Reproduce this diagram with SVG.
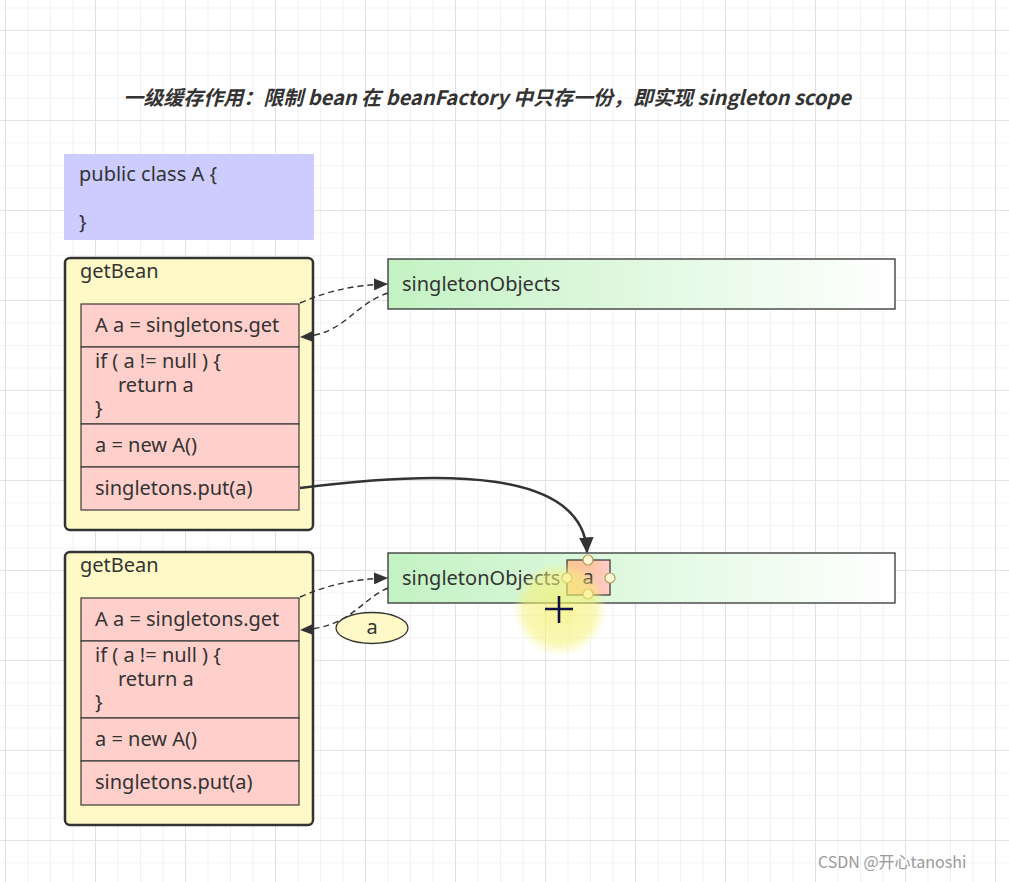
<svg xmlns="http://www.w3.org/2000/svg" width="1009" height="882" viewBox="0 0 1009 882">
<defs>
<pattern id="gMinor" patternUnits="userSpaceOnUse" x="5" y="7.5" width="22.5" height="22.5">
<path d="M0,0 V22.5 M0,0 H22.5" fill="none" stroke="#e9e9e9" stroke-width="1.2"/>
</pattern>
<pattern id="gMajor" patternUnits="userSpaceOnUse" x="5" y="30" width="90" height="90">
<path d="M0,0 V90 M0,0 H90" fill="none" stroke="#dedede" stroke-width="1.6"/>
</pattern>
<linearGradient id="green" x1="0" y1="0" x2="1" y2="0">
<stop offset="0" stop-color="#c3f2c3"/>
<stop offset="1" stop-color="#ffffff"/>
</linearGradient>
<linearGradient id="small" x1="0" y1="0" x2="1" y2="0">
<stop offset="0" stop-color="#fcc494"/>
<stop offset="0.6" stop-color="#fdc6a8"/>
<stop offset="1" stop-color="#ffcccc"/>
</linearGradient>
<radialGradient id="hl">
<stop offset="0" stop-color="#f3f06a" stop-opacity="0.7"/>
<stop offset="0.75" stop-color="#f5f27a" stop-opacity="0.55"/>
<stop offset="1" stop-color="#f7f590" stop-opacity="0"/>
</radialGradient>
<marker id="arr" viewBox="0 0 14 12" refX="14" refY="6" markerWidth="14" markerHeight="12" markerUnits="userSpaceOnUse" orient="auto">
<path d="M0,0 L14,6 L0,12 Z" fill="#333"/>
</marker>
<marker id="arrBig" viewBox="0 0 10 10" refX="9" refY="5" markerWidth="6.5" markerHeight="6.5" orient="auto">
<path d="M0,0.5 L10,5 L0,9.5 Z" fill="#333"/>
</marker>
<style>
text{font-family:"Noto Sans","Open Sans","Liberation Sans",sans-serif;font-size:20px;fill:#333}
.title{font-family:"Noto Sans CJK SC","Noto Sans",sans-serif;font-weight:bold;font-style:italic;font-size:20px;fill:#333}
.ybox{fill:#fff9c8;stroke:#333;stroke-width:2.5}
.prow{fill:#ffcfcb;stroke:#3a3a3a;stroke-width:1.2}
.gbox{fill:url(#green);stroke:#333;stroke-width:1.3}
.dash{fill:none;stroke:#333;stroke-width:1.4;stroke-dasharray:6 4;marker-end:url(#arr)}
.handle{fill:#fff8d6;stroke:#b59e58;stroke-width:1.2}
</style>
</defs>
<rect width="1009" height="882" fill="#ffffff"/>
<rect width="1009" height="882" fill="url(#gMinor)"/>
<rect width="1009" height="882" fill="url(#gMajor)"/>

<text id="title" class="title" x="487" y="105" text-anchor="middle">一级缓存作用：限制 bean 在 beanFactory 中只存一份，即实现 singleton scope</text>

<g id="classA">
<rect x="64" y="154" width="250" height="86" fill="#ccccff"/>
<text x="79" y="181">public class A {</text>
<text x="79" y="229">}</text>
</g>

<g id="getBean1">
<rect class="ybox" x="65" y="258" width="248" height="272" rx="5"/>
<text x="80" y="278">getBean</text>
<rect class="prow" x="81" y="304" width="218" height="43"/>
<text x="95" y="332">A a = singletons.get</text>
<rect class="prow" x="81" y="347" width="218" height="77"/>
<text x="95" y="368">if ( a != null ) {</text>
<text x="118" y="392">return a</text>
<text x="95" y="415">}</text>
<rect class="prow" x="81" y="424" width="218" height="43"/>
<text x="95" y="452">a = new A()</text>
<rect class="prow" x="81" y="467" width="218" height="43"/>
<text x="95" y="495">singletons.put(a)</text>
</g>

<g id="singletonObjects1">
<rect class="gbox" x="388" y="259" width="507" height="50"/>
<text x="402" y="291">singletonObjects</text>
</g>

<g id="getBean2">
<rect class="ybox" x="65" y="552" width="248" height="273" rx="5"/>
<text x="80" y="572">getBean</text>
<rect class="prow" x="81" y="598" width="218" height="43"/>
<text x="95" y="626">A a = singletons.get</text>
<rect class="prow" x="81" y="641" width="218" height="77"/>
<text x="95" y="662">if ( a != null ) {</text>
<text x="118" y="686">return a</text>
<text x="95" y="709">}</text>
<rect class="prow" x="81" y="718" width="218" height="43"/>
<text x="95" y="746">a = new A()</text>
<rect class="prow" x="81" y="761" width="218" height="44"/>
<text x="95" y="789">singletons.put(a)</text>
</g>

<g id="singletonObjects2">
<rect class="gbox" x="388" y="553" width="507" height="50"/>
<text x="402" y="585">singletonObjects</text>
</g>

<g id="connectors">
<path class="dash" d="M300,303 C330,290 355,285 388,284"/>
<path class="dash" d="M388,293 C352,305 345,335 300,337"/>
<path class="dash" d="M300,597 C330,584 355,579 388,578"/>
<path class="dash" d="M388,588 C360,600 350,628 300,630"/>
<path d="M300,488 C440,470 583,468 587,552" fill="none" stroke="#333" stroke-width="2.5" marker-end="url(#arrBig)"/>
</g>

<g id="labelA">
<ellipse cx="372" cy="628" rx="36" ry="15.5" fill="#fff9c8" stroke="#333" stroke-width="1.3"/>
<text x="372" y="634" text-anchor="middle">a</text>
</g>

<g id="itemA">
<rect x="567" y="560" width="43" height="35" fill="url(#small)" stroke="#333" stroke-width="1.2"/>
<text x="588" y="584" text-anchor="middle">a</text>
<circle class="handle" cx="588" cy="560" r="5"/>
<circle class="handle" cx="567" cy="578" r="5"/>
<circle class="handle" cx="610" cy="578" r="5"/>
<circle class="handle" cx="588" cy="594" r="5"/>
</g>

<g id="cursor">
<circle cx="560" cy="609" r="47" fill="url(#hl)"/>
<path d="M545,609 H573 M559,596 V623" stroke="#111144" stroke-width="2.6"/>
</g>

<text id="watermark" x="818" y="868" style="font-family:'Noto Sans CJK SC','Noto Sans',sans-serif;font-size:16px;fill:#9a9a9a">CSDN @开心tanoshi</text>
</svg>
